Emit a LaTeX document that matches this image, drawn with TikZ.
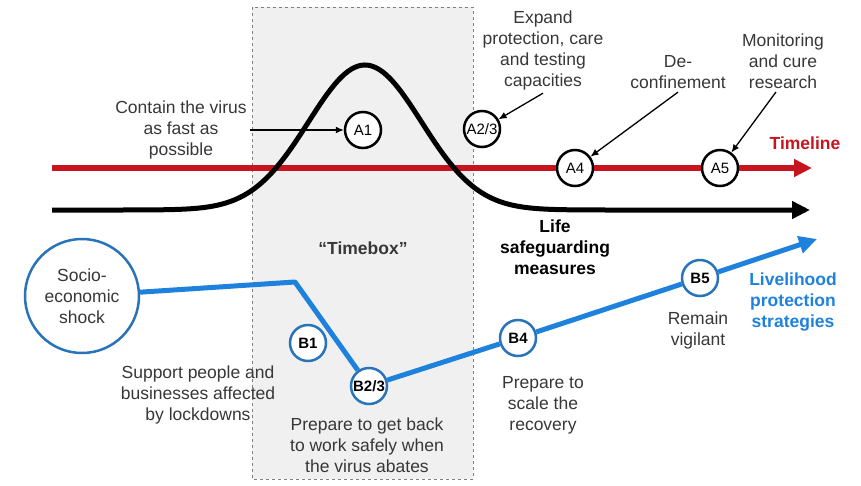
\documentclass[tikz,border=0pt]{standalone}
\usepackage{fontspec}
\setmainfont{Liberation Sans}
\usepackage{tikz}
\usetikzlibrary{arrows.meta}
\definecolor{tlred}{RGB}{200,20,30}
\definecolor{lhblue}{RGB}{30,130,220}
\definecolor{ringblue}{RGB}{40,115,185}
\definecolor{txtgray}{RGB}{55,55,55}
\definecolor{boxgray}{RGB}{240,240,240}
\newcommand{\tip}{-{Triangle[length=18pt,width=17pt]}}
\newcommand{\ptr}{-{Latex[length=8pt,width=7pt]}}
\tikzset{
  lbl/.style={align=center,text=txtgray,font=\fontsize{17.5}{21}\selectfont},
  blbl/.style={lbl,font=\fontsize{17.5}{21}\selectfont\bfseries},
  amark/.style={circle,draw=black,line width=2.5pt,fill=white,minimum size=36pt,inner sep=0pt,font=\fontsize{15}{15}\selectfont},
  bmark/.style={circle,draw=ringblue,line width=2.5pt,fill=white,minimum size=36pt,inner sep=0pt,font=\fontsize{15}{15}\selectfont\bfseries},
}

\begin{document}
\begin{tikzpicture}[x=1pt,y=-1pt]
\useasboundingbox (0,0) rectangle (861,485);
%timebox
\draw[dashed,gray,fill=boxgray,line width=1pt] (252,7) rectangle (473,479);
\node[blbl] (tbox) at (363,248) {``Timebox''};
%timeline
\node[blbl,text=tlred] (tl) at (805,143) {Timeline};
\node[amark] (A4) at (575,168) {A4};
\node[amark] (A5) at (720,168) {A5};
\coordinate (tl0) at (52,168);
\coordinate (tl1) at (812,168);
\draw[tlred,line width=6pt,\tip] (tl0) -- (A4) -- (A5) -- (tl1);
%life curve
\draw[line width=5pt,\tip] plot[domain=52:810,samples=120,smooth]
  (\x,{210-145*exp(-((\x-365)/80)*((\x-365)/80))});
\node[amark] (A1) at (363,130) {A1};
\node[amark] (A23) at (482,129) {A2/3};
\node[lbl] (contain) at (181,130) {Contain the virus\\as fast as\\possible};
\node[lbl] (expand) at (543,50) {Expand\\protection, care\\and testing\\capacities};
\node[lbl] (deconf) at (678,72) {De-\\confinement};
\node[lbl] (monitor) at (783,61) {Monitoring\\and cure\\research};
\draw[line width=1.3pt,\ptr] (contain.east) -- (A1);
\draw[line width=1.3pt,\ptr] (expand.south) -- (A23);
\draw[line width=1.3pt,\ptr] (deconf.south) -- (A4);
\draw[line width=1.3pt,\ptr] ([xshift=-7pt]monitor.south) -- (A5);
\node[blbl,text=black] (life) at (555,247) {Life\\safeguarding\\measures};
%livelihood
\node[lbl,circle,draw=ringblue,line width=2.5pt,fill=white,minimum size=114pt,inner sep=0pt] (shock) at (82,296) {Socio-\\economic\\shock};
\coordinate (knee) at (295,282);
\node[bmark] (B1) at (308,343) {B1};
\node[bmark] (B23) at (369,386) {B2/3};
\node[bmark] (B4) at (518,338) {B4};
\node[bmark] (B5) at (700,278) {B5};
\coordinate (lhend) at (817,239);
\draw[lhblue,line width=5pt,line join=round,\tip] (shock) -- (knee) -- (B23) -- (B4) -- (B5) -- (lhend);
\node[lbl] (support) at (198,395) {Support people and\\businesses affected\\by lockdowns};
\node[lbl] (getback) at (367,445) {Prepare to get back\\to work safely when\\the virus abates};
\node[lbl] (scale) at (543,405) {Prepare to\\scale the\\recovery};
\node[lbl] (vigil) at (698,330) {Remain\\vigilant};
\node[blbl,text=lhblue] (lhood) at (793,302) {Livelihood\\protection\\strategies};
\end{tikzpicture}
\end{document}
